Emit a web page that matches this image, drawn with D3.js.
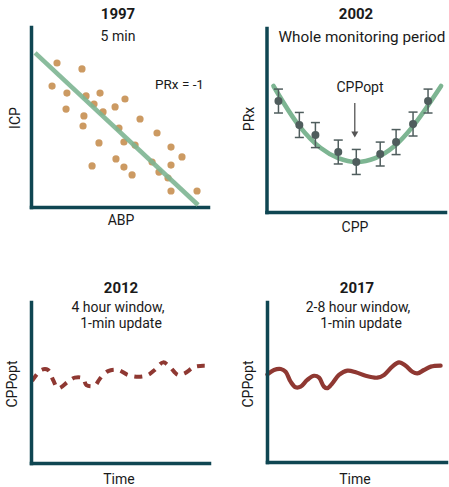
<!DOCTYPE html>
<html>
<head>
<meta charset="utf-8">
<script src="https://cdn.jsdelivr.net/npm/d3@7"></script>
<style>
  html, body { margin: 0; padding: 0; background: #ffffff; }
  svg { display: block; }
  text { font-family: Roboto, "Noto Sans", sans-serif; fill: #1a1a1a; }
</style>
</head>
<body>
<svg id="chart" width="449" height="487"></svg>
<script>
// ---- 1997: ABP vs ICP scatter over a 5 min window (arbitrary units 0-100)
const abp = [14.7, 28.8, 11.9, 20.3, 31.1, 39.0, 53.1, 35.6, 19.8, 47.5, 40.7, 29.9, 61.6, 29.4, 49.7,
             71.2, 38.4, 52.5, 58.8, 79.1, 85.3, 48.0, 68.4, 79.1, 34.5, 52.5, 72.3, 57.1, 77.4, 79.1, 93.8];
const icp = [80.0, 76.7, 67.2, 63.3, 61.7, 63.3, 60.0, 57.2, 54.4, 55.6, 52.8, 50.6, 48.9, 45.0, 43.9,
             41.1, 35.6, 36.1, 34.4, 33.3, 27.8, 26.7, 25.0, 23.3, 22.8, 22.2, 19.4, 17.8, 16.1, 8.9, 8.9];
const fitABP = [2.3, 94.4];
const fitICP = [85.6, 1.1];

// ---- 2002: PRx binned by CPP over the whole monitoring period
const cppBins = [6.7, 18.4, 27.4, 40.2, 50.3, 63.7, 72.6, 82.1, 90.5];
const prxMean = [60.3, 47.3, 41.8, 32.6, 27.2, 31.5, 38.0, 47.8, 60.3];
const prxErr  = [6.5, 6.8, 6.8, 6.5, 6.8, 6.5, 6.8, 6.5, 6.5];
const curveCPP = [3.9, 18.4, 30.2, 40.2, 50.3, 60.9, 72.1, 82.1, 97.8];
const curvePRx = [68.5, 46.7, 34.9, 29.3, 27.2, 29.3, 36.2, 46.7, 68.5];
const optIndex = 4;

// ---- 2012: CPPopt over time, 4 hour window
const time2012 = [0.6, 5.8, 9.6, 12.4, 15.2, 20.8, 24.6, 29.2, 31.1, 35.8, 38.6, 43.3, 48.9, 54.5,
                  60.1, 65.7, 69.5, 74.2, 77.9, 82.6, 86.3, 92.0, 97.6];
const opt2012  = [50.9, 57.8, 57.8, 51.6, 46.4, 50.5, 53.0, 52.6, 48.4, 48.0, 52.2, 57.1, 57.8, 54.7,
                  53.6, 54.7, 57.8, 62.5, 59.8, 54.7, 55.7, 59.8, 60.4];

// ---- 2017: CPPopt over time, 2-8 hour window
const time2017 = [0.2, 3.9, 7.7, 10.4, 13.2, 16.0, 18.8, 22.5, 26.3, 29.1, 31.8, 33.7, 36.5, 40.2,
                  44.9, 49.6, 55.1, 61.6, 65.4, 70.0, 73.7, 77.5, 81.2, 84.0, 87.7, 91.5, 97.0];
const opt2017  = [54.8, 57.5, 58.1, 56.4, 50.2, 46.7, 47.1, 51.3, 53.9, 52.7, 47.1, 46.1, 49.2, 54.4,
                  57.1, 56.1, 53.9, 52.7, 54.4, 59.6, 62.3, 60.2, 56.4, 55.4, 57.5, 59.6, 60.2];

const AXIS = "#0f4652";
const GREEN = "#7db592";
const TAN = "#cc9a62";
const RED = "#8f3832";
const GREY = "#4f5d5d";

const svg = d3.select("#chart");

function lAxes(g, x, y) {
  g.append("g").attr("transform", `translate(${x.range()[0]},0)`)
    .call(d3.axisLeft(y).ticks(0).tickSizeOuter(0))
    .call(s => s.select(".domain").attr("stroke", AXIS).attr("stroke-width", 3.5)
      .attr("stroke-linecap", "square"));
  g.append("g").attr("transform", `translate(0,${y.range()[0]})`)
    .call(d3.axisBottom(x).ticks(0).tickSizeOuter(0))
    .call(s => s.select(".domain").attr("stroke", AXIS).attr("stroke-width", 3.5)
      .attr("stroke-linecap", "square"));
}

function label(g, txt, x, y, opts = {}) {
  const t = g.append("text").attr("x", x).attr("y", y).attr("text-anchor", "middle")
    .attr("font-size", opts.size || 14).text(txt);
  if (opts.bold) t.attr("font-weight", 700);
  return t;
}

function yLabel(g, txt, x, y) {
  g.append("text").attr("transform", `translate(${x},${y}) rotate(-90)`)
    .attr("text-anchor", "middle").attr("font-size", 14).text(txt);
}

// ---------- Panel 1997
{
  const g = svg.append("g");
  const x = d3.scaleLinear().domain([0, 100]).range([31, 208]);
  const y = d3.scaleLinear().domain([0, 100]).range([207, 27]);
  lAxes(g, x, y);
  g.selectAll("circle.pt").data(abp).join("circle").attr("class", "pt")
    .attr("cx", d => x(d)).attr("cy", (d, i) => y(icp[i])).attr("r", 3.6).attr("fill", TAN);
  g.append("line")
    .attr("x1", x(fitABP[0])).attr("y1", y(fitICP[0]))
    .attr("x2", x(fitABP[1])).attr("y2", y(fitICP[1]))
    .attr("stroke", GREEN).attr("stroke-width", 4.6).attr("stroke-opacity", 0.9);
  label(g, "1997", 118, 19, { bold: true, size: 15 });
  label(g, "5 min", 118, 41);
  g.append("text").attr("x", 155).attr("y", 89).attr("font-size", 13.5).text("PRx = -1");
  yLabel(g, "ICP", 20, 118);
  label(g, "ABP", 121, 225);
}

// ---------- Panel 2002
{
  const g = svg.append("g");
  const x = d3.scaleLinear().domain([0, 100]).range([266.5, 445]);
  const y = d3.scaleLinear().domain([0, 100]).range([212, 28]);
  lAxes(g, x, y);
  const line = d3.line().curve(d3.curveCatmullRom.alpha(0.5))
    .x((d, i) => x(curveCPP[i])).y(d => y(d));
  g.append("path").attr("d", line(curvePRx)).attr("fill", "none")
    .attr("stroke", GREEN).attr("stroke-width", 4.6).attr("stroke-linecap", "round");
  const bars = g.selectAll("g.bar").data(cppBins).join("g").attr("class", "bar");
  bars.append("line")
    .attr("x1", d => x(d)).attr("x2", d => x(d))
    .attr("y1", (d, i) => y(prxMean[i] + prxErr[i])).attr("y2", (d, i) => y(prxMean[i] - prxErr[i]))
    .attr("stroke", GREY).attr("stroke-width", 1.5);
  [1, -1].forEach(sg => {
    bars.append("line")
      .attr("x1", d => x(d) - 4.5).attr("x2", d => x(d) + 4.5)
      .attr("y1", (d, i) => y(prxMean[i] + sg * prxErr[i]))
      .attr("y2", (d, i) => y(prxMean[i] + sg * prxErr[i]))
      .attr("stroke", GREY).attr("stroke-width", 1.5);
  });
  bars.append("circle").attr("cx", d => x(d)).attr("cy", (d, i) => y(prxMean[i]))
    .attr("r", 4).attr("fill", GREY);
  // arrow pointing at the optimal CPP bin
  const ax = x(cppBins[optIndex]) - 1.5;
  const tipY = y(prxMean[optIndex] + prxErr[optIndex]) - 12;
  g.append("line").attr("x1", ax).attr("x2", ax).attr("y1", 103).attr("y2", tipY - 5)
    .attr("stroke", "#555").attr("stroke-width", 1.3);
  g.append("path").attr("d", `M${ax - 3.5},${tipY - 6}L${ax + 3.5},${tipY - 6}L${ax},${tipY}Z`)
    .attr("fill", "#555");
  label(g, "2002", 356, 19, { bold: true, size: 15 });
  label(g, "Whole monitoring period", 362, 42, { size: 15.3 });
  label(g, "CPPopt", 360, 92);
  yLabel(g, "PRx", 254, 119);
  label(g, "CPP", 355, 232);
}

// ---------- Panel 2012
{
  const g = svg.append("g");
  const x = d3.scaleLinear().domain([0, 100]).range([31, 209]);
  const y = d3.scaleLinear().domain([0, 100]).range([463, 302]);
  const line = d3.line().curve(d3.curveCatmullRom.alpha(0.5))
    .x((d, i) => x(time2012[i])).y(d => y(d));
  g.append("path").attr("d", line(opt2012)).attr("fill", "none")
    .attr("stroke", RED).attr("stroke-width", 4).attr("stroke-dasharray", "8,7");
  lAxes(g, x, y);
  label(g, "2012", 121, 293, { bold: true, size: 15 });
  label(g, "4 hour window,", 118, 312);
  label(g, "1-min update", 121, 328);
  yLabel(g, "CPPopt", 17, 384);
  label(g, "Time", 119, 484);
}

// ---------- Panel 2017
{
  const g = svg.append("g");
  const x = d3.scaleLinear().domain([0, 100]).range([267, 446]);
  const y = d3.scaleLinear().domain([0, 100]).range([462, 302]);
  const line = d3.line().curve(d3.curveCatmullRom.alpha(0.5))
    .x((d, i) => x(time2017[i])).y(d => y(d));
  g.append("path").attr("d", line(opt2017)).attr("fill", "none")
    .attr("stroke", RED).attr("stroke-width", 4.2).attr("stroke-linecap", "round");
  lAxes(g, x, y);
  label(g, "2017", 357, 293, { bold: true, size: 15 });
  label(g, "2-8 hour window,", 358, 312);
  label(g, "1-min update", 361, 328);
  yLabel(g, "CPPopt", 253, 384);
  label(g, "Time", 355, 484);
}
</script>
</body>
</html>
